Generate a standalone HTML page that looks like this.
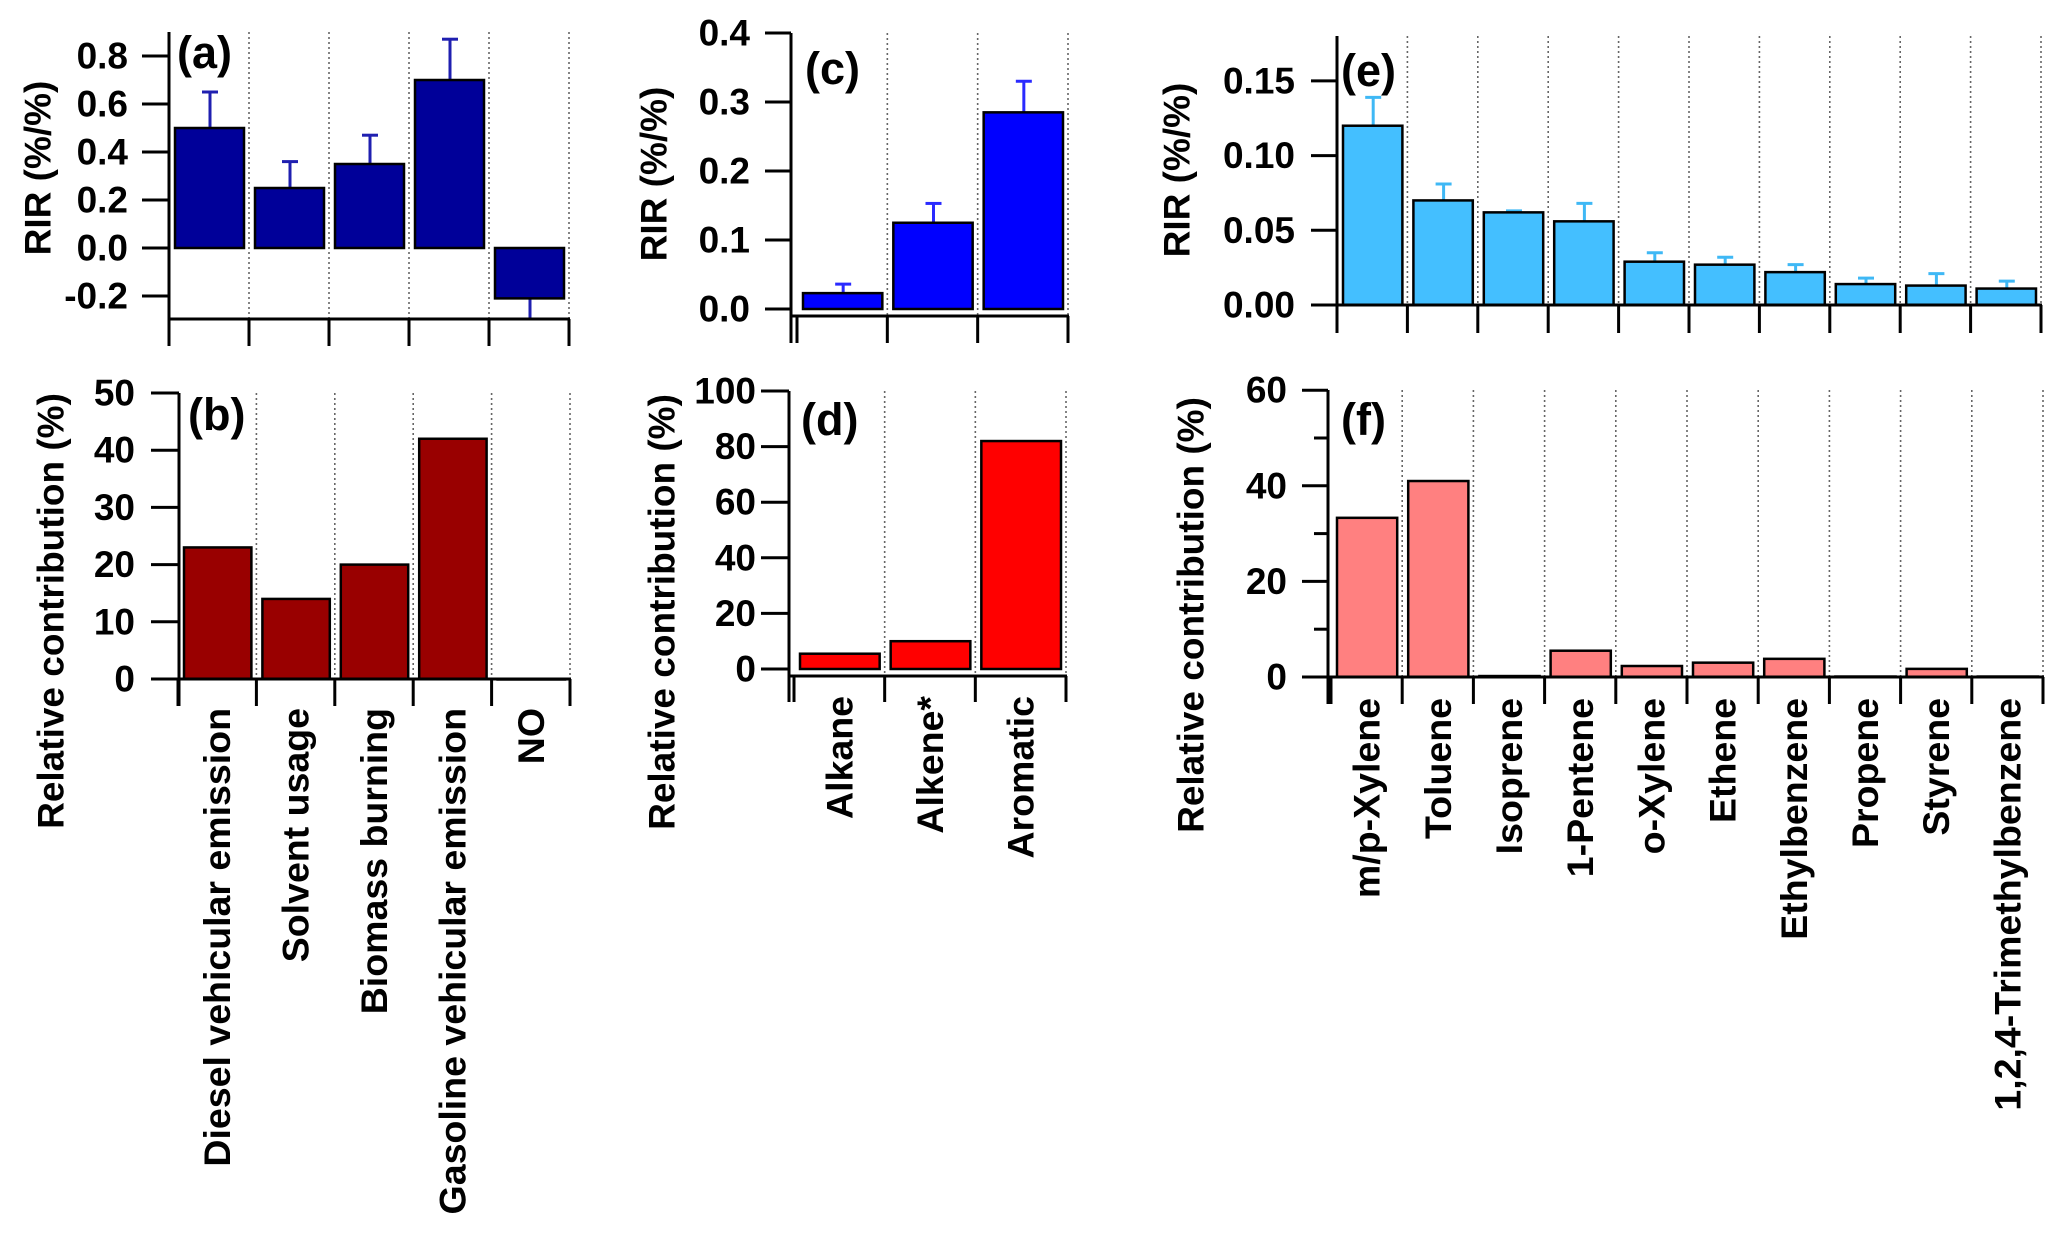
<!DOCTYPE html>
<html><head><meta charset="utf-8">
<style>
html,body{margin:0;padding:0;background:#fff;}
svg{display:block;font-family:"Liberation Sans",Arial,sans-serif;font-weight:bold;}
</style></head>
<body>
<svg id="chart" width="2067" height="1237" viewBox="0 0 2067 1237" xmlns="http://www.w3.org/2000/svg"></svg>
<script>
// ---- data ----
const sourceCats = ["Diesel vehicular emission","Solvent usage","Biomass burning","Gasoline vehicular emission","NO"];
const sourceRir = [0.50, 0.25, 0.35, 0.70, -0.21];
const sourceRirErr = [0.65, 0.36, 0.47, 0.87, -0.30];
const sourceContrib = [23, 14, 20, 42, 0];
const groupCats = ["Alkane","Alkene*","Aromatic"];
const groupRir = [0.023, 0.125, 0.285];
const groupRirErr = [0.036, 0.153, 0.330];
const groupContrib = [5.5, 10, 82];
const speciesCats = ["m/p-Xylene","Toluene","Isoprene","1-Pentene","o-Xylene","Ethene","Ethylbenzene","Propene","Styrene","1,2,4-Trimethylbenzene"];
const speciesRir = [0.120, 0.070, 0.062, 0.056, 0.029, 0.027, 0.022, 0.014, 0.013, 0.011];
const speciesRirErr = [0.139, 0.081, 0.063, 0.068, 0.035, 0.032, 0.027, 0.018, 0.021, 0.016];
const speciesContrib = [33.3, 41, 0.2, 5.5, 2.3, 3.0, 3.8, 0.1, 1.7, 0.1];
const ticksA = [-0.2, 0.0, 0.2, 0.4, 0.6, 0.8];
const ticksB = [0, 10, 20, 30, 40, 50];
const ticksC = [0.0, 0.1, 0.2, 0.3, 0.4];
const ticksD = [0, 20, 40, 60, 80, 100];
const ticksE = [0.00, 0.05, 0.10, 0.15];
const ticksF = [0, 20, 40, 60];
const minorF = [10, 30, 50];

const NS = "http://www.w3.org/2000/svg";
const svg = document.getElementById("chart");
function mk(tag, attrs, parent){
  const e = document.createElementNS(NS, tag);
  for (const k in attrs) e.setAttribute(k, attrs[k]);
  (parent || svg).appendChild(e);
  return e;
}

function panel(p){
  const g = mk("g", {});
  
  
  const n = p.cats.length;
  const cw = (p.cx1 - p.cx0) / n;
  const y = v => p.zeroY - v * p.ppu;
  const xb = i => p.cx0 + i * cw;
  for (let i = 1; i <= n; i++) {
    const l = mk("line", {x1: xb(i), x2: xb(i), y1: p.top, y2: p.axisY, stroke: "#666", "stroke-width": 1.6, "stroke-dasharray": "2,3"}, g);
    
    
  }
  for (let i = 0; i < n; i++) {
    const v = p.vals[i];
    const top = Math.min(y(v), y(0)), h = Math.abs(y(v) - y(0));
    if (p.errs) {
      const ev = Math.max(p.errs[i], p.ymin);
      const cx = xb(i) + cw / 2 + 1;
      const el = mk("line", {x1: cx, x2: cx, y1: y(v), y2: y(ev), stroke: p.errColor, "stroke-width": 3}, g);
      
      
      if (p.errs[i] >= p.ymin) {
        const cap = mk("line", {x1: cx - 8, x2: cx + 8, y1: y(ev), y2: y(ev), stroke: p.errColor, "stroke-width": 3}, g);
        
        
      }
    }
    const r = mk("rect", {x: xb(i) + 6, y: top, width: cw - 11, height: Math.max(h, 0.5), fill: p.color, stroke: "#000", "stroke-width": 2.5}, g);
    
    
  }
  const ya = mk("line", {x1: p.yAxisX, x2: p.yAxisX, y1: p.top, y2: p.tickBottom, stroke: "#000", "stroke-width": 3}, g);
  
  
  const xa = mk("line", {x1: p.xAxisStart, x2: p.cx1 + 1, y1: p.axisY, y2: p.axisY, stroke: "#000", "stroke-width": 3}, g);
  
  
  for (let i = 0; i <= n; i++) {
    const t = mk("line", {x1: xb(i), x2: xb(i), y1: p.axisY, y2: p.tickBottom, stroke: "#000", "stroke-width": 3}, g);
    
    
  }
  for (const tv of p.ticks) {
    const t = mk("line", {x1: p.tickLeft, x2: p.yAxisX, y1: y(tv), y2: y(tv), stroke: "#000", "stroke-width": 3}, g);
    
    
    const tl = mk("text", {x: p.labelRight, y: y(tv), "text-anchor": "end", "dominant-baseline": "central", "font-size": 37}, g);
    tl.textContent = tv.toFixed(p.dec);
    
    
  }
  if (p.minor) for (const tv of p.minor) {
    const t = mk("line", {x1: p.yAxisX - 14, x2: p.yAxisX, y1: y(tv), y2: y(tv), stroke: "#000", "stroke-width": 3}, g);
    
    
  }
  const yt = mk("text", {x: 0, y: 0, "text-anchor": "middle", "dominant-baseline": "central", "font-size": 37, transform: `translate(${p.titleX},${p.titleY}) rotate(-90)`}, g);
  yt.textContent = p.title;
  
  
  const pl = mk("text", {x: p.letterX, y: p.letterY, "font-size": 45}, g);
  pl.textContent = p.letter;
  
  
  if (p.xLabelTop) for (let i = 0; i < n; i++) {
    const cx = xb(i) + cw / 2;
    const xl = mk("text", {x: 0, y: 0, "text-anchor": "end", "dominant-baseline": "central", "font-size": 37.5, transform: `translate(${cx},${p.xLabelTop}) rotate(-90)`}, g);
    xl.textContent = p.cats[i];
    
    
  }
}

panel({name:"panel-a", cats:sourceCats, vals:sourceRir, errs:sourceRirErr, ymin:-0.296, color:"#000099", errColor:"#1f1fb0",
  cx0:169, cx1:569, zeroY:248, ppu:240, axisY:319, top:32, tickBottom:346, yAxisX:169, xAxisStart:169,
  ticks:ticksA, dec:1, tickLeft:142, labelRight:128, title:"RIR (%/%)", titleX:38, titleY:168, letter:"(a)", letterX:177, letterY:68});
panel({name:"panel-b", cats:sourceCats, vals:sourceContrib, color:"#990000",
  cx0:178, cx1:570, zeroY:679, ppu:5.72, axisY:679, top:393, tickBottom:706, yAxisX:179, xAxisStart:151,
  ticks:ticksB, dec:0, tickLeft:151, labelRight:135, title:"Relative contribution (%)", titleX:51, titleY:611, letter:"(b)", letterX:188, letterY:430, xLabelTop:708});
panel({name:"panel-c", cats:groupCats, vals:groupRir, errs:groupRirErr, ymin:0, color:"#0000ff", errColor:"#2a2aff",
  cx0:797, cx1:1068, zeroY:309, ppu:690, axisY:316, top:33, tickBottom:343, yAxisX:791, xAxisStart:791,
  ticks:ticksC, dec:1, tickLeft:765, labelRight:750, title:"RIR (%/%)", titleX:654, titleY:174, letter:"(c)", letterX:805, letterY:84});
panel({name:"panel-d", cats:groupCats, vals:groupContrib, color:"#ff0000",
  cx0:794, cx1:1066, zeroY:669, ppu:2.78, axisY:676, top:391, tickBottom:702, yAxisX:789, xAxisStart:789,
  ticks:ticksD, dec:0, tickLeft:761, labelRight:756, title:"Relative contribution (%)", titleX:662, titleY:612, letter:"(d)", letterX:801, letterY:435, xLabelTop:696});
panel({name:"panel-e", cats:speciesCats, vals:speciesRir, errs:speciesRirErr, ymin:0, color:"#44bfff", errColor:"#3fb8f5",
  cx0:1337, cx1:2041, zeroY:305, ppu:1494, axisY:305, top:36, tickBottom:333, yAxisX:1337, xAxisStart:1311,
  ticks:ticksE, dec:2, tickLeft:1311, labelRight:1295, title:"RIR (%/%)", titleX:1177, titleY:170, letter:"(e)", letterX:1341, letterY:86});
panel({name:"panel-f", cats:speciesCats, vals:speciesContrib, color:"#ff8080",
  cx0:1331, cx1:2043, zeroY:677, ppu:4.78, axisY:677, top:390, tickBottom:704, yAxisX:1328, xAxisStart:1302,
  ticks:ticksF, minor:minorF, dec:0, tickLeft:1302, labelRight:1287, title:"Relative contribution (%)", titleX:1191, titleY:615, letter:"(f)", letterX:1341, letterY:435, xLabelTop:698});
</script>
</body></html>
